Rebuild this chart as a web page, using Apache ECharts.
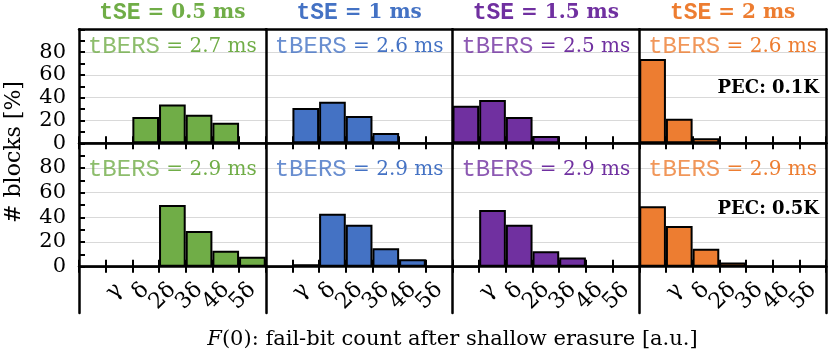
<!DOCTYPE html>
<html>
<head>
<meta charset="utf-8">
<script src="https://cdn.jsdelivr.net/npm/echarts@6/dist/echarts.min.js"></script>
<style>
html,body{margin:0;padding:0;background:#fff;}
#chart{width:830px;height:357px;}
</style>
</head>
<body>
<div id="chart"></div>
<script>
// ---- data ----
const categories = ['', 'γ', 'δ', '2δ', '3δ', '4δ', '5δ'];
const tSELabels = ['0.5', '1', '1.5', '2'];
const tBERSTop = ['2.7', '2.6', '2.5', '2.6'];
const tBERSBottom = ['2.9', '2.9', '2.9', '2.9'];
const pecLabels = ['0.1K', '0.5K'];
const yTicks = [0, 20, 40, 60, 80];

// PEC 0.1K (top row)
const top_tSE05 = [0, 0, 23, 34, 25, 18, 0];
const top_tSE1  = [0, 31, 36.5, 24, 9, 0, 0];
const top_tSE15 = [33, 38, 23, 6.5, 0, 0, 0];
const top_tSE2  = [74, 21.5, 4.5, 0, 0, 0, 0];
// PEC 0.5K (bottom row)
const bot_tSE05 = [0, 0, 0, 50, 29, 13, 8];
const bot_tSE1  = [0, 2, 43, 34, 15, 6, 0];
const bot_tSE15 = [0, 46, 34, 12.5, 7.5, 0, 0];
const bot_tSE2  = [49, 33, 14.5, 3.5, 0, 0, 0];

const rows = [
  [top_tSE05, top_tSE1, top_tSE15, top_tSE2],
  [bot_tSE05, bot_tSE1, bot_tSE15, bot_tSE2]
];
const colors = ['#70AD47', '#4472C4', '#7030A0', '#ED7D31'];

// ---- layout ----
const L = 79, R = 826;
const W = (R - L) / 4;
const rowTop = [29.3, 143.3];
const rowH = [114, 123.4];
const FRAME_BOTTOM = 313;
const SERIF = 'DejaVu Serif';
const MONO = 'Liberation Mono';
const FRAME_LINE = {show: true, onZero: false, lineStyle: {color: '#000', width: 2.5}};

const grids = [], xAxes = [], yAxes = [], series = [], graphics = [];

function addGrid(box) {
  grids.push(Object.assign({outerBoundsMode: 'none', containLabel: false}, box));
  return grids.length - 1;
}
function addRightBorder(gi) {
  yAxes.push({gridIndex: gi, type: 'value', min: 0, max: 100, position: 'right',
    axisLine: FRAME_LINE, axisTick: {show: false}, axisLabel: {show: false},
    splitLine: {show: false}});
}

for (let r = 0; r < 2; r++) {
  for (let p = 0; p < 4; p++) {
    const box = {left: L + p * W, top: rowTop[r], width: W, height: rowH[r]};
    const gi = addGrid(box);
    const xi = xAxes.length;
    xAxes.push({
      gridIndex: gi, type: 'category', data: categories, boundaryGap: true, position: 'bottom',
      splitLine: {show: false},
      axisLine: FRAME_LINE,
      axisTick: {show: true, inside: false, length: 6, interval: 0, lineStyle: {color: '#000', width: 2}},
      axisLabel: {show: r === 1, interval: 0, rotate: 45, margin: 20,
        fontFamily: SERIF, fontSize: 22, color: '#000'}
    });
    if (r === 0) {
      // top border of the figure box
      xAxes.push({
        gridIndex: gi, type: 'category', data: categories, boundaryGap: true, position: 'top',
        splitLine: {show: false}, axisLine: FRAME_LINE,
        axisTick: {show: false}, axisLabel: {show: false}
      });
    }
    const yi = yAxes.length;
    yAxes.push({
      gridIndex: gi, type: 'value', min: 0, max: 100, interval: 20, position: 'left',
      axisLine: FRAME_LINE,
      axisTick: {show: p === 0, inside: true, length: 6, lineStyle: {color: '#000', width: 2}},
      minorTick: {show: p === 0, splitNumber: 2, length: 6, lineStyle: {color: '#000', width: 2}},
      axisLabel: {show: p === 0, margin: 13, fontFamily: SERIF, fontSize: 21, color: '#000',
        formatter: v => (yTicks.indexOf(v) >= 0 ? String(v) : '')},
      splitLine: {show: true, lineStyle: {color: '#d9d9d9', width: 1}}
    });
    if (p === 3) addRightBorder(gi);
    series.push({
      type: 'bar', xAxisIndex: xi, yAxisIndex: yi, data: rows[r][p],
      barCategoryGap: '0%', barGap: '0%',
      itemStyle: {color: colors[p], borderColor: '#000', borderWidth: 2},
      silent: true, animation: false
    });

    // overlay grid with inward x ticks (ticks cross the axis)
    const gi2 = addGrid(box);
    xAxes.push({
      gridIndex: gi2, type: 'category', data: categories, boundaryGap: true, position: 'bottom',
      splitLine: {show: false},
      axisLine: {show: false, onZero: false},
      axisTick: {show: true, inside: true, length: 7, interval: 0, lineStyle: {color: '#000', width: 2}},
      axisLabel: {show: false}
    });
    yAxes.push({gridIndex: gi2, type: 'value', min: 0, max: 100,
      axisLine: {show: false}, axisTick: {show: false}, axisLabel: {show: false},
      splitLine: {show: false}});

    // divider extension below the bottom row (through the tick-label band)
    if (r === 1) {
      const gi3 = addGrid({left: L + p * W, top: rowTop[1] + rowH[1], width: W,
        height: FRAME_BOTTOM - rowTop[1] - rowH[1]});
      xAxes.push({gridIndex: gi3, type: 'category', data: categories, show: false});
      yAxes.push({gridIndex: gi3, type: 'value', min: 0, max: 100, position: 'left',
        axisLine: FRAME_LINE, axisTick: {show: false}, axisLabel: {show: false},
        splitLine: {show: false}});
      if (p === 3) addRightBorder(gi3);
    }

    // inner tBERS label
    const tb = r === 0 ? tBERSTop[p] : tBERSBottom[p];
    graphics.push({
      type: 'text', x: L + p * W + W / 2, y: r === 0 ? 47 : 170, z: 100,
      style: {
        text: '{m|tBERS}{s| = ' + tb + ' ms}', align: 'center', verticalAlign: 'middle',
        rich: {
          m: {fontFamily: MONO, fontSize: 24, fill: colors[p], opacity: 0.8},
          s: {fontFamily: SERIF, fontSize: 20, fill: colors[p]}
        }
      }
    });
  }
  graphics.push({
    type: 'text', x: R - 7, y: r === 0 ? 88 : 209, z: 100,
    style: {text: 'PEC: ' + pecLabels[r], align: 'right', verticalAlign: 'middle',
      fontFamily: SERIF, fontWeight: 'bold', fontSize: 18, fill: '#000'}
  });
}

for (let p = 0; p < 4; p++) {
  graphics.push({
    type: 'text', x: L + p * W + W / 2, y: 13, z: 100,
    style: {
      text: '{m|tSE}{s| = ' + tSELabels[p] + ' ms}', align: 'center', verticalAlign: 'middle',
      rich: {
        m: {fontFamily: MONO, fontWeight: 'bold', fontSize: 23, fill: colors[p]},
        s: {fontFamily: SERIF, fontWeight: 'bold', fontSize: 20, fill: colors[p]}
      }
    }
  });
}
graphics.push({
  type: 'text', x: 14, y: 152, rotation: Math.PI / 2, z: 100,
  style: {text: '# blocks [%]', align: 'center', verticalAlign: 'middle',
    fontFamily: SERIF, fontSize: 22, fill: '#000'}
});
graphics.push({
  type: 'text', x: (L + R) / 2, y: 340, z: 100,
  style: {
    text: '{i|F}{n|(0): fail-bit count after shallow erasure [a.u.]}',
    align: 'center', verticalAlign: 'middle',
    rich: {
      i: {fontFamily: SERIF, fontSize: 21, fontStyle: 'italic', fill: '#000'},
      n: {fontFamily: SERIF, fontSize: 21, fill: '#000'}
    }
  }
});

const chart = echarts.init(document.getElementById('chart'), null, {renderer: 'canvas'});
chart.setOption({
  animation: false,
  grid: grids, xAxis: xAxes, yAxis: yAxes, series: series, graphic: graphics
});
</script>
</body>
</html>
